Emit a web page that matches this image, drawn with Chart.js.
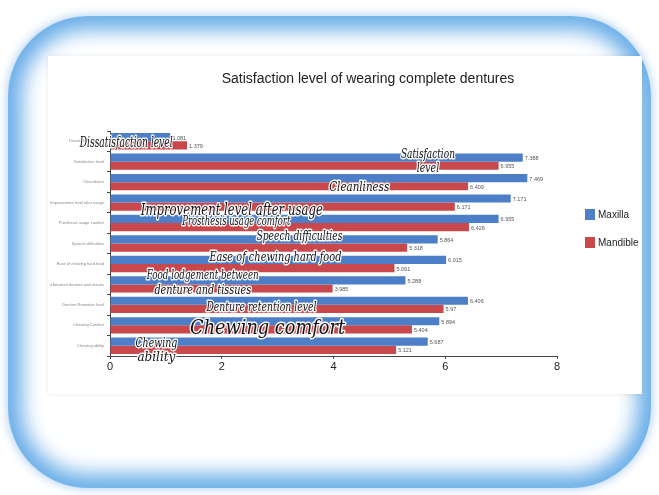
<!DOCTYPE html>
<html>
<head>
<meta charset="utf-8">
<script src="https://cdn.jsdelivr.net/npm/chart.js@4/dist/chart.umd.min.js"></script>
<style>
  html, body { margin: 0; padding: 0; background: #fff; }
  #stage { position: relative; width: 659px; height: 495px; overflow: hidden; background: #fff; }
  .frame {
    position: absolute; left: 8px; top: 16px; width: 643px; height: 472px;
    border-radius: 80px; background: #fff;
    box-shadow: inset 0 0 20px 14px #6aaee8, 0 0 8px 2px rgba(110,170,230,0.45);
  }
  .card {
    position: absolute; left: 48px; top: 56px; width: 594px; height: 338px;
    background: #fff; box-shadow: 0 0 4px rgba(0,0,0,0.10);
  }
  #chart { position: absolute; left: 0; top: 0; }
</style>
</head>
<body>
<div id="stage">
  <div class="frame"></div>
  <div class="card"></div>
  <canvas id="chart" width="659" height="495"></canvas>
</div>
<script>
// Survey categories (top to bottom) and mean scores per arch
const categories = [
  'Dissatisfaction level',
  'Satisfaction level',
  'Cleanliness',
  'Improvement level after usage',
  'Prosthesis usage comfort',
  'Speech difficulties',
  'Ease of chewing hard food',
  'Food lodgement between denture and tissues',
  'Denture Retention level',
  'Chewing Comfort',
  'Chewing ability'
];
const maxilla  = [1.081, 7.388, 7.469, 7.171, 6.955, 5.864, 6.015, 5.288, 6.406, 5.894, 5.687];
const mandible = [1.379, 6.955, 6.409, 6.171, 6.426, 5.318, 5.091, 3.985, 5.97, 5.404, 5.121];
const xTicks = [0, 2, 4, 6, 8];
const seriesNames = ['Maxilla', 'Mandible'];
const chartTitle = 'Satisfaction level of wearing complete dentures';

// Handwritten captions laid over the bars: x in score units, y in category index units
const captions = [
  { lines: ['Dissatisfaction level'], x: 0.29, y: 0.1, size: 14, width: 93 },
  { lines: ['Satisfaction', 'level'], x: 5.69, y: 1.0, size: 12, width: 54, gap: 0.68 },
  { lines: ['Cleanliness'], x: 4.46, y: 2.3, size: 12, width: 60 },
  { lines: ['Improvement level after usage'], x: 2.18, y: 3.4, size: 17, width: 182 },
  { lines: ['Prosthesis usage comfort'], x: 2.26, y: 3.93, size: 12, width: 108 },
  { lines: ['Speech difficulties'], x: 3.39, y: 4.68, size: 12, width: 86 },
  { lines: ['Ease of chewing hard food'], x: 2.96, y: 5.71, size: 12, width: 132 },
  { lines: ['Food lodgement between', 'denture and tissues'], x: 1.66, y: 6.97, size: 12, width: 112, gap: 0.74 },
  { lines: ['Denture retention level'], x: 2.71, y: 8.17, size: 12, width: 110 },
  { lines: ['Chewing comfort'], x: 2.82, y: 9.16, size: 21, width: 155 },
  { lines: ['Chewing', 'ability'], x: 0.83, y: 10.25, size: 12, width: 42, gap: 0.7 }
];

const BLUE = '#4c7fc7';
const RED = '#c8484b';

const overlay = {
  id: 'overlay',
  afterDatasetsDraw(chart) {
    const ctx = chart.ctx;
    // value labels at the end of each bar
    ctx.save();
    ctx.font = '5.5px "Liberation Sans", Arial, sans-serif';
    ctx.fillStyle = '#555';
    ctx.textBaseline = 'middle';
    ctx.textAlign = 'left';
    chart.data.datasets.forEach((ds, di) => {
      chart.getDatasetMeta(di).data.forEach((bar, i) => {
        ctx.fillText(String(ds.data[i]), bar.x + 2, bar.y + 1);
      });
    });
    ctx.restore();
  },
  afterDraw(chart) {
    const ctx = chart.ctx;
    const xs = chart.scales.x, ys = chart.scales.y;

    // title
    ctx.save();
    ctx.font = '14px "Liberation Sans", Arial, sans-serif';
    ctx.fillStyle = '#222';
    ctx.textAlign = 'center';
    ctx.textBaseline = 'middle';
    ctx.fillText(chartTitle, 368, 79);
    ctx.restore();

    // legend
    ctx.save();
    ctx.font = '10px "Liberation Sans", Arial, sans-serif';
    ctx.textBaseline = 'middle';
    chart.data.datasets.forEach((ds, i) => {
      const top = 209 + i * 28;
      ctx.fillStyle = ds.backgroundColor;
      ctx.fillRect(585, top, 10, 11);
      ctx.fillStyle = '#222';
      ctx.fillText(ds.label, 598, top + 6);
    });
    ctx.restore();

    // handwritten captions
    ctx.save();
    ctx.textAlign = 'center';
    ctx.textBaseline = 'middle';
    ctx.lineJoin = 'round';
    captions.forEach(c => {
      ctx.font = 'italic ' + c.size + 'px "DejaVu Serif", serif';
      const cx = xs.getPixelForValue(c.x);
      c.lines.forEach((line, k) => {
        const cy = ys.getPixelForValue(c.y + k * (c.gap || 0) - (c.lines.length - 1) * (c.gap || 0) / 2);
        const w = c.lines.length > 1 ? c.width * line.length / c.lines[0].length : c.width;
        ctx.strokeStyle = 'rgba(255,255,255,0.95)';
        ctx.lineWidth = 3;
        ctx.strokeText(line, cx, cy, w);
        ctx.fillStyle = '#111';
        ctx.fillText(line, cx, cy, w);
      });
    });
    ctx.restore();
  }
};

new Chart(document.getElementById('chart'), {
  type: 'bar',
  data: {
    labels: categories,
    datasets: [
      { label: seriesNames[0], data: maxilla, backgroundColor: BLUE },
      { label: seriesNames[1], data: mandible, backgroundColor: RED }
    ]
  },
  options: {
    indexAxis: 'y',
    responsive: false,
    animation: false,
    events: [],
    layout: { padding: { left: 50, right: 102, top: 131, bottom: 119 } },
    datasets: { bar: { categoryPercentage: 0.8, barPercentage: 1.0 } },
    plugins: { legend: { display: false }, title: { display: false }, tooltip: { enabled: false } },
    scales: {
      x: {
        min: 0, max: 8,
        afterFit(s) { s.height = 20; },
        afterBuildTicks(s) { s.ticks = xTicks.map(v => ({ value: v })); },
        grid: { drawOnChartArea: false, drawTicks: true, tickLength: 3, color: '#444' },
        border: { color: '#444', width: 1 },
        ticks: { color: '#222', font: { family: '"Liberation Sans", Arial, sans-serif', size: 11 }, padding: 1 }
      },
      y: {
        afterFit(s) { s.width = 60; },
        grid: { drawOnChartArea: false, drawTicks: true, tickLength: 3, offset: true, color: '#444' },
        border: { color: '#444', width: 1 },
        ticks: { color: '#888', font: { family: '"Liberation Sans", Arial, sans-serif', size: 4 }, padding: 3 }
      }
    }
  },
  plugins: [overlay]
});
</script>
</body>
</html>
